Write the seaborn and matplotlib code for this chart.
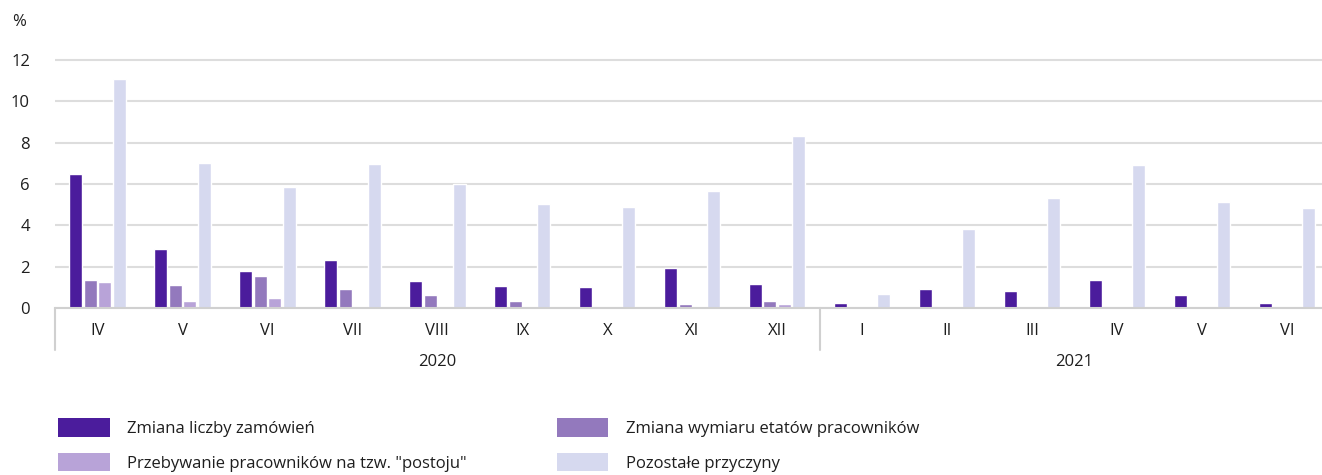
import pandas as pd
import seaborn as sns
import matplotlib.pyplot as plt
from matplotlib.patches import Patch

# data
periods = ['2020-IV', '2020-V', '2020-VI', '2020-VII', '2020-VIII', '2020-IX', '2020-X', '2020-XI', '2020-XII',
           '2021-I', '2021-II', '2021-III', '2021-IV', '2021-V', '2021-VI']
month_labels = ['IV', 'V', 'VI', 'VII', 'VIII', 'IX', 'X', 'XI', 'XII', 'I', 'II', 'III', 'IV', 'V', 'VI']
years = ['2020', '2021']
zamowienia = [6.5, 2.85, 1.8, 2.3, 1.3, 1.05, 1.0, 1.95, 1.15, 0.25, 0.9, 0.8, 1.35, 0.65, 0.25]
etaty = [1.35, 1.1, 1.55, 0.9, 0.65, 0.35, 0.0, 0.2, 0.35, 0.0, 0.0, 0.0, 0.0, 0.0, 0.0]
postoj = [1.25, 0.35, 0.5, 0.1, 0.0, 0.1, 0.0, 0.1, 0.2, 0.0, 0.0, 0.0, 0.0, 0.0, 0.0]
pozostale = [11.1, 7.0, 5.85, 6.95, 6.0, 5.05, 4.9, 5.65, 8.3, 0.7, 3.8, 5.3, 6.9, 5.15, 4.85]

series_names = ['Zmiana liczby zamówień', 'Zmiana wymiaru etatów pracowników',
                'Przebywanie pracowników na tzw. "postoju"', 'Pozostałe przyczyny']
colors = ['#4b1c9c', '#9379bd', '#b8a3d8', '#d6d9ef']

rows = []
for name, vals in zip(series_names, [zamowienia, etaty, postoj, pozostale]):
    for p, v in zip(periods, vals):
        rows.append({'okres': p, 'seria': name, 'wartosc': v})
df = pd.DataFrame(rows)

sns.set_style('white')
plt.rcParams['font.family'] = ['Open Sans', 'DejaVu Sans']
txt_color = '#1e1e1e'

fig = plt.figure(figsize=(13.22, 4.75), dpi=100)
ax = fig.add_axes([55 / 1322, 1 - 308 / 475, 1 - 55 / 1322, 258.3 / 475])

sns.barplot(data=df, x='okres', y='wartosc', hue='seria', order=periods, hue_order=series_names,
            palette=colors, width=0.68, gap=0.1, ax=ax, legend=False, saturation=1)

ax.set_ylim(0, 12.5)
ax.set_xlim(-0.5, (1322 - 97) / 85)
ax.set_yticks(range(0, 13, 2))
ax.yaxis.grid(True, color='#dddddd', linewidth=1.5)
ax.set_axisbelow(True)
for s in ['top', 'right', 'left']:
    ax.spines[s].set_visible(False)
ax.spines['bottom'].set_color('#d0d0d0')
ax.spines['bottom'].set_linewidth(1.5)
ax.set_xlabel('')
ax.set_ylabel('')
ax.set_xticks(range(len(periods)))
ax.set_xticklabels(month_labels)
ax.tick_params(axis='x', length=0, pad=11, labelsize=12, labelcolor=txt_color)
ax.tick_params(axis='y', length=0, pad=18, labelsize=12, labelcolor=txt_color)
for lbl in ax.get_yticklabels():
    lbl.set_horizontalalignment('right')

# separators and year labels
trans = ax.get_xaxis_transform()
for xs in [-0.5, 8.5]:
    ax.plot([xs, xs], [0, -42 / 258.3], transform=trans, color='#d0d0d0', lw=1.5, clip_on=False)
ax.text(4, -54 / 258.3, years[0], transform=trans, ha='center', va='center', fontsize=12, color=txt_color)
ax.text(11.5, -54 / 258.3, years[1], transform=trans, ha='center', va='center', fontsize=12, color=txt_color)

fig.text(12 / 1322, 1 - 22 / 475, '%', fontsize=12, color=txt_color, va='center')

handles = [Patch(facecolor=c, edgecolor='none') for c in colors]
order = [0, 2, 1, 3]
fig.legend([handles[i] for i in order], [series_names[i] for i in order], ncol=2,
           loc='upper left', bbox_to_anchor=(58 / 1322, 1 - 418 / 475), frameon=False,
           fontsize=12, handlelength=3.1, handleheight=1.35, handletextpad=1.05,
           columnspacing=5.4, labelspacing=0.95, borderpad=0, borderaxespad=0,
           labelcolor=txt_color)

fig.savefig('out.png', dpi=100)
